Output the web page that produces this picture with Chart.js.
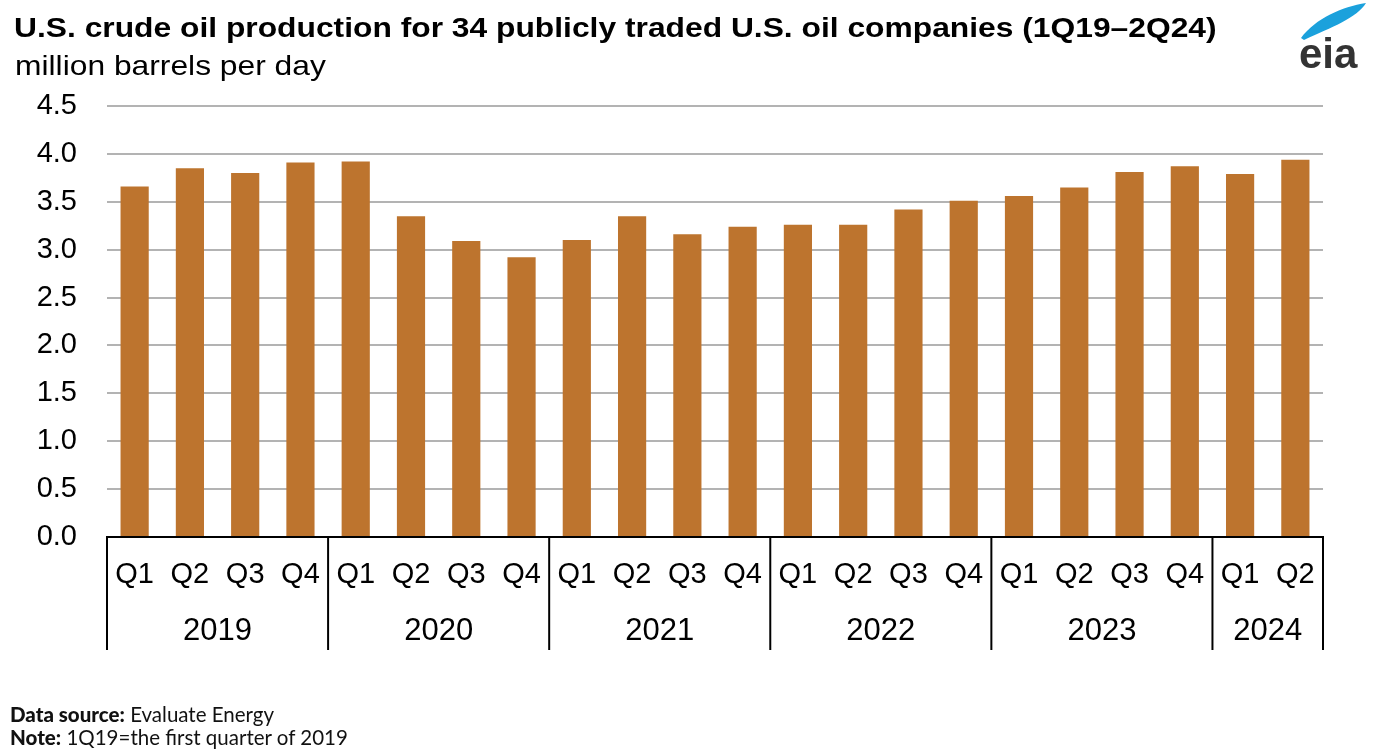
<!DOCTYPE html>
<html>
<head>
<meta charset="utf-8">
<script src="https://cdn.jsdelivr.net/npm/chart.js@4.4.1/dist/chart.umd.min.js"></script>
<style>
  html, body { margin: 0; padding: 0; background: #fff; }
  body { width: 1386px; height: 755px; position: relative; overflow: hidden; font-family: "Liberation Sans", Arial, sans-serif; }
  #chart { position: absolute; left: 0; top: 0; }
  .title { position: absolute; left: 14px; top: 12px; font-size: 28px; font-weight: bold; color: #000; white-space: nowrap; transform: scaleX(1.135); transform-origin: left top; }
  .subtitle { position: absolute; left: 15px; top: 50px; font-size: 28px; color: #000; white-space: nowrap; transform: scaleX(1.135); transform-origin: left top; }
  .notes { position: absolute; left: 10px; top: 703px; font-family: Lato, "Noto Sans", sans-serif; font-size: 20.5px; line-height: 23px; color: #111; }
  .notes b { font-weight: 900; }
  .logo { position: absolute; left: 1296px; top: 0px; }
</style>
</head>
<body>
<canvas id="chart" width="1386" height="755"></canvas>
<div class="title">U.S. crude oil production for 34 publicly traded U.S. oil companies (1Q19–2Q24)</div>
<div class="subtitle">million barrels per day</div>
<div class="notes"><b>Data source:</b> Evaluate Energy<br><b>Note:</b> 1Q19=the first quarter of 2019</div>
<svg class="logo" width="80" height="75" viewBox="0 0 80 75">
  <path d="M5 38 C 20 18, 46 7, 70 3 C 61 18, 36 27, 8 40 Z" fill="#1ba1dc"/>
  <text x="3" y="68" font-family="Liberation Sans, Arial, sans-serif" font-weight="bold" font-size="42" fill="#333">eia</text>
</svg>
<script>
// quarterly values, million b/d
const quarters = ['Q1', 'Q2', 'Q3', 'Q4', 'Q1', 'Q2', 'Q3', 'Q4', 'Q1', 'Q2', 'Q3', 'Q4',
                  'Q1', 'Q2', 'Q3', 'Q4', 'Q1', 'Q2', 'Q3', 'Q4', 'Q1', 'Q2'];
const years = ['2019', '2020', '2021', '2022', '2023', '2024'];
const quartersPerYear = [4, 4, 4, 4, 4, 2];
const production = [3.66, 3.85, 3.80, 3.91, 3.92, 3.35, 3.09, 2.92, 3.10, 3.35, 3.16, 3.24,
                    3.26, 3.26, 3.42, 3.51, 3.56, 3.65, 3.81, 3.87, 3.79, 3.94];
const yTicks = [0, 0.5, 1, 1.5, 2, 2.5, 3, 3.5, 4, 4.5];

const barColor = '#bd742e';
const gridColor = '#b3b3b3';
const fontFamily = '"Liberation Sans", Arial, sans-serif';
const labelFont = { family: fontFamily, size: 29 };
const yearFont = { family: fontFamily, size: 31 };

// draws the year row and the black separators under the quarter labels
const yearGroups = {
    id: 'yearGroups',
    afterDraw(chart) {
        const { ctx, chartArea, scales } = chart;
        const x = scales.x;
        const half = (x.getPixelForValue(1) - x.getPixelForValue(0)) / 2;
        const top = chartArea.bottom;
        const bottom = top + 113;
        ctx.save();
        ctx.strokeStyle = '#000';
        ctx.lineWidth = 2;
        ctx.fillStyle = '#000';
        ctx.font = yearFont.size + 'px ' + yearFont.family;
        ctx.textAlign = 'center';
        ctx.textBaseline = 'middle';
        let start = 0;
        years.forEach((yr, i) => {
            const n = quartersPerYear[i];
            const left = x.getPixelForValue(start) - half;
            const right = x.getPixelForValue(start + n - 1) + half;
            ctx.beginPath();
            ctx.moveTo(left, top);
            ctx.lineTo(left, bottom);
            ctx.stroke();
            if (i === years.length - 1) {
                ctx.beginPath();
                ctx.moveTo(right, top);
                ctx.lineTo(right, bottom);
                ctx.stroke();
            }
            ctx.fillText(yr, (left + right) / 2, top + 94);
            start += n;
        });
        ctx.restore();
    }
};

const ctx = document.getElementById('chart');
new Chart(ctx, {
    type: 'bar',
    data: {
        labels: quarters,
        datasets: [{
            data: production,
            backgroundColor: barColor,
            categoryPercentage: 1,
            barPercentage: 0.51
        }]
    },
    options: {
        responsive: false,
        animation: false,
        layout: { padding: { top: 106, left: 0, right: 63, bottom: 98 } },
        plugins: { legend: { display: false }, tooltip: { enabled: false }, title: { display: false } },
        scales: {
            y: {
                min: 0,
                max: 4.5,
                afterFit: (scale) => { scale.width = 107; },
                afterBuildTicks: (scale) => { scale.ticks = yTicks.map(v => ({ value: v })); },
                ticks: {
                    color: '#000',
                    font: labelFont,
                    padding: 30,
                    callback: (v) => Number(v).toFixed(1)
                },
                grid: { color: gridColor, lineWidth: 2, drawTicks: false },
                border: { display: false }
            },
            x: {
                afterFit: (scale) => { scale.height = 120; },
                ticks: { color: '#000', font: labelFont, padding: 21, maxRotation: 0, autoSkip: false },
                grid: { display: false, drawTicks: false },
                border: { color: '#000', width: 2 }
            }
        }
    },
    plugins: [yearGroups]
});
</script>
</body>
</html>
